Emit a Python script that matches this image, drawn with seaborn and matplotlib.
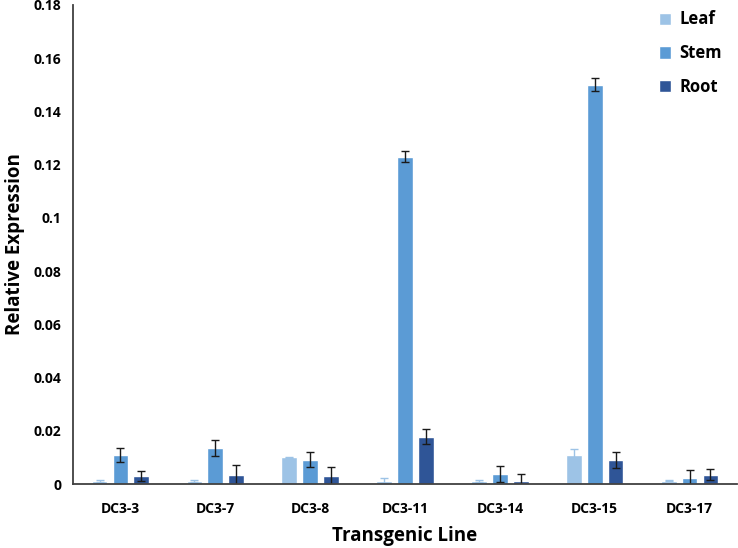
import matplotlib
matplotlib.use("Agg")
import matplotlib.pyplot as plt
import seaborn as sns
import pandas as pd
import numpy as np

lines = ["DC3-3", "DC3-7", "DC3-8", "DC3-11", "DC3-14", "DC3-15", "DC3-17"]
tissues = ["Leaf", "Stem", "Root"]
leaf = [0.0012, 0.0012, 0.0100, 0.0012, 0.0012, 0.0110, 0.0013]
stem = [0.0110, 0.0135, 0.0092, 0.1230, 0.0038, 0.1500, 0.0022]
root = [0.0030, 0.0035, 0.0030, 0.0178, 0.0012, 0.0090, 0.0035]
leaf_err = [0.0003, 0.0003, 0.0002, 0.0010, 0.0003, 0.0023, 0.0003]
stem_err = [0.0026, 0.0030, 0.0027, 0.0020, 0.0030, 0.0025, 0.0030]
root_err = [0.0020, 0.0037, 0.0033, 0.0027, 0.0027, 0.0030, 0.0020]
colors = ["#9DC3E6", "#5B9BD5", "#2F5597"]
err_colors = ["#9DC3E6", "#1a1a1a", "#1a1a1a"]

df = pd.DataFrame({
    "Line": lines * 3,
    "Tissue": [t for t in tissues for _ in lines],
    "Value": leaf + stem + root,
})

sns.set_style("white")
plt.rcParams['font.family'] = ['Open Sans', 'DejaVu Sans']
plt.rcParams['text.color'] = 'black'
plt.rcParams['axes.labelcolor'] = 'black'

fig = plt.figure(figsize=(7.38, 5.48), dpi=100)
ax = fig.add_axes([73/738, 64/548, 664/738, 479/548])

sns.barplot(data=df, x="Line", y="Value", hue="Tissue", order=lines,
            hue_order=tissues, palette=colors, width=0.66, gap=0.25,
            errorbar=None, ax=ax, saturation=1, legend=True)

errs = [leaf_err, stem_err, root_err]
vals = [leaf, stem, root]
bars = [p for p in ax.patches if p.get_height() > 0]
for k in range(3):
    for i in range(len(lines)):
        p = bars[k * len(lines) + i]
        cx = p.get_x() + p.get_width() / 2
        ax.errorbar(cx, vals[k][i], yerr=errs[k][i], fmt="none",
                    ecolor=err_colors[k], elinewidth=1.0, capsize=3, capthick=1.0)

ax.set_xlim(-0.5, 6.5)
ax.set_ylim(0, 0.18)
ax.set_yticks(np.arange(0, 0.181, 0.02))
ax.set_yticklabels(["0", "0.02", "0.04", "0.06", "0.08", "0.1", "0.12", "0.14", "0.16", "0.18"])
for s in ["top", "right"]:
    ax.spines[s].set_visible(False)
for s in ["left", "bottom"]:
    ax.spines[s].set_color("#404040")
    ax.spines[s].set_linewidth(1.3)
ax.tick_params(axis="both", direction="out", length=5, width=1.2, color="#404040",
               labelsize=10, labelcolor="black")
ax.tick_params(axis="x", pad=8)
for lab in ax.get_xticklabels() + ax.get_yticklabels():
    lab.set_fontweight("bold")
ax.set_xlabel("Transgenic Line", fontsize=13.5, fontweight="bold", color="black")
ax.set_ylabel("Relative Expression", fontsize=13.5, fontweight="bold", color="black")
ax.xaxis.set_label_coords(0.5, -0.088)
ax.yaxis.set_label_coords(-0.072, 0.5)

leg = ax.legend(loc="upper right", bbox_to_anchor=(1.0, 1.02), frameon=False,
                handlelength=0.75, handleheight=0.75, handletextpad=0.5,
                labelspacing=0.95, prop={"weight": "bold", "size": 12}, title=None)
for t in leg.get_texts():
    t.set_color("black")

fig.savefig("out.png", dpi=100)
